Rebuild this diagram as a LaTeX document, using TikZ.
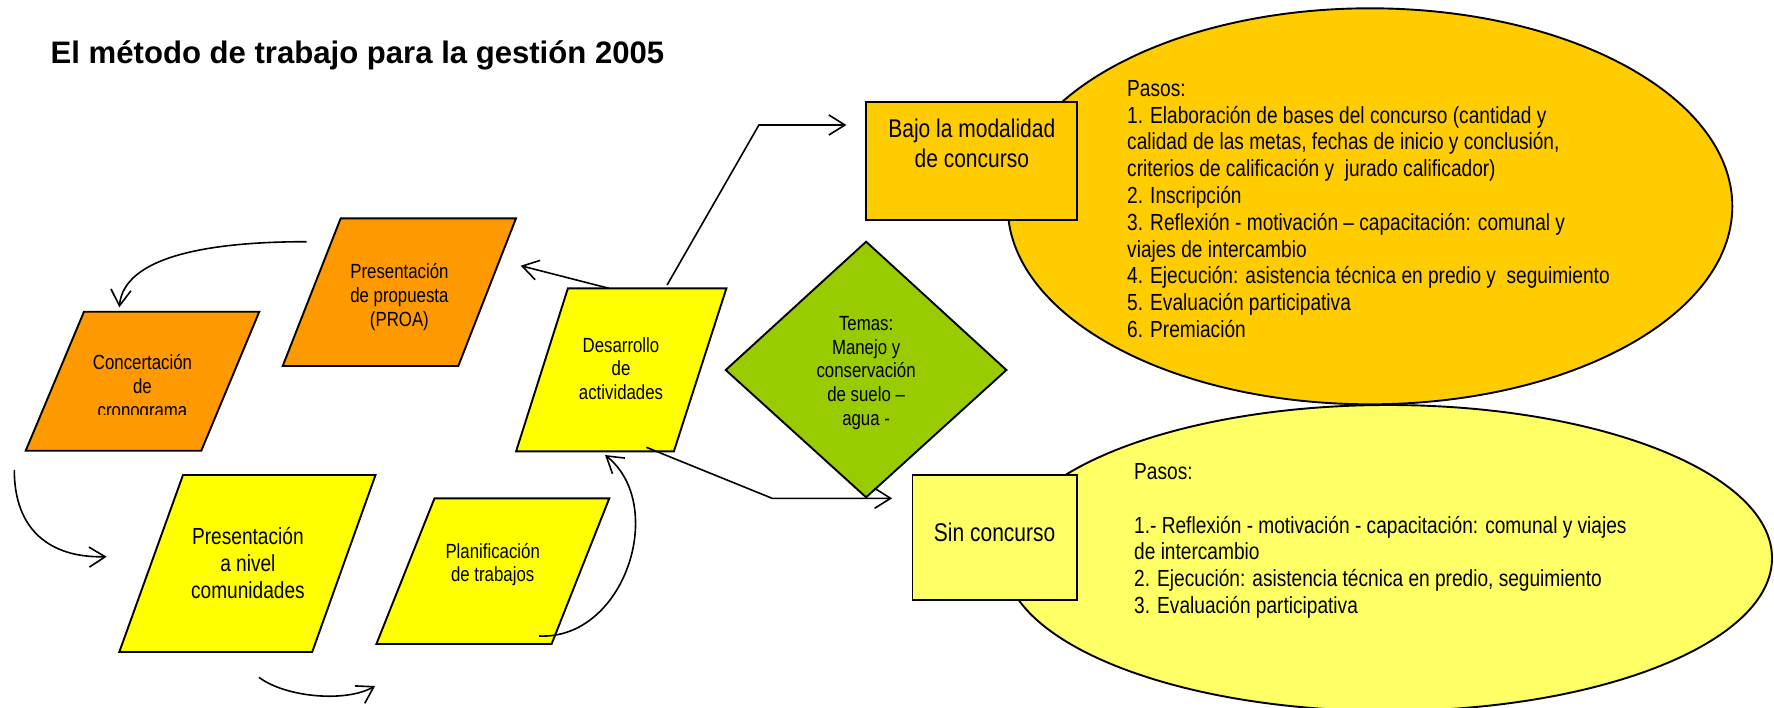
\documentclass[tikz,border=0pt]{standalone}
\usepackage{fontspec}
\setmainfont[FakeStretch=0.82]{Liberation Sans}
\newfontfamily\titlefont{Liberation Sans}
\usetikzlibrary{arrows.meta,shapes.geometric}
\definecolor{cOrange}{HTML}{FF9900}
\definecolor{cYellow}{HTML}{FFFF00}
\definecolor{cGold}{HTML}{FFCC00}
\definecolor{cPale}{HTML}{FFFF66}
\definecolor{cGreen}{HTML}{99CC00}
\tikzset{
  shapeline/.style={draw=black,line width=1.9pt,line join=miter},
  conn/.style={draw=black,line width=1.6pt,-{Straight Barb[length=16pt,width=20pt,line width=1.6pt]}},
  lbl/.style={inner sep=0pt,align=center,anchor=north},
  fs/.style={font=\fontsize{20.5}{23.7}\selectfont},
  fm/.style={font=\fontsize{23.3}{26.8}\selectfont},
  fl/.style={font=\fontsize{25.6}{29.5}\selectfont},
}
\begin{document}
\begin{tikzpicture}[x=1pt,y=-1pt]
\useasboundingbox (0,0) rectangle (1774,707);
% title
\node[anchor=base west,inner sep=0pt,font=\titlefont\bfseries\fontsize{31.1}{34}\selectfont] (title) at (50.5,63.3) {El método de trabajo para la gestión 2005};

% ellipses
\node[ellipse,shapeline,fill=cGold,minimum width=724.6pt,minimum height=396pt,inner sep=0pt] (ovA) at (1370,206.3) {};
\node[ellipse,shapeline,fill=cPale,minimum width=768pt,minimum height=306pt,inner sep=0pt] (ovB) at (1388,558) {};

% boxes
\node[shapeline,fill=cGold,minimum width=210.8pt,minimum height=118.3pt,inner sep=0pt] (bajo) at (971.4,160.85) {};
\node[shapeline,fill=cPale,minimum width=164.3pt,minimum height=125pt,inner sep=0pt] (sin) at (994.65,537.5) {};

% parallelograms
\coordinate (proaTL) at (340.7,218.3); \coordinate (proaTR) at (516,218.3);
\coordinate (proaBR) at (458.3,366);   \coordinate (proaBL) at (282.7,366);
\filldraw[shapeline,fill=cOrange] (proaTL) -- (proaTR) -- (proaBR) -- (proaBL) -- cycle;

\coordinate (concTL) at (84,311.7);    \coordinate (concTR) at (259.3,311.7);
\coordinate (concBR) at (201.3,450.7); \coordinate (concBL) at (25.7,450.7);
\filldraw[shapeline,fill=cOrange] (concTL) -- (concTR) -- (concBR) -- (concBL) -- cycle;

\coordinate (desaTL) at (567.9,288.3); \coordinate (desaTR) at (726.4,288.3);
\coordinate (desaBR) at (673.9,451.3); \coordinate (desaBL) at (516.1,451.3);
\filldraw[shapeline,fill=cYellow] (desaTL) -- (desaTR) -- (desaBR) -- (desaBL) -- cycle;

\coordinate (nivTL) at (183,475);      \coordinate (nivTR) at (375.5,475);
\coordinate (nivBR) at (312.2,652);    \coordinate (nivBL) at (119.3,652);
\filldraw[shapeline,fill=cYellow] (nivTL) -- (nivTR) -- (nivBR) -- (nivBL) -- cycle;

\coordinate (planTL) at (434.5,498.3); \coordinate (planTR) at (609.3,498.3);
\coordinate (planBR) at (551.6,644);   \coordinate (planBL) at (376.4,644);
\filldraw[shapeline,fill=cYellow] (planTL) -- (planTR) -- (planBR) -- (planBL) -- cycle;

% diamond
\coordinate (temT) at (866.1,241.7); \coordinate (temR) at (1006.4,370);
\coordinate (temB) at (866.1,497.3); \coordinate (temL) at (725.7,370);
\filldraw[shapeline,fill=cGreen] (temT) -- (temR) -- (temB) -- (temL) -- cycle;

% texts
\node[lbl,fs] (tproa) at (399.4,263.4) {Presentación\\de propuesta\\(PROA)};
\begin{scope}
\clip (0,300) rectangle (300,414.3);
\node[lbl,fs] (tconc) at (142.5,354.4) {Concertación\\de\\cronograma};
\end{scope}
\node[lbl,fs] (tdesa) at (621,337) {Desarrollo\\de\\actividades};
\node[lbl,font=\fontsize{23.3}{26.8}\selectfont] (tniv) at (247.9,527.4) {Presentación\\a nivel\\comunidades};
\node[lbl,fs] (tplan) at (492.7,542.7) {Planificación\\de trabajos};
\node[lbl,fs] (ttem) at (866.1,316) {Temas:\\Manejo y\\conservación\\de suelo –\\agua -};
\node[lbl,fl] (tbajo) at (971.8,118.8) {Bajo la modalidad\\de concurso};
\node[lbl,fl] (tsin) at (994.6,522.5) {Sin concurso};

\node[inner sep=0pt,anchor=north west,align=left,fm] (tpasA) at (1127,80)
{Pasos:\\
1. Elaboración de bases del concurso (cantidad y\\
calidad de las metas, fechas de inicio y conclusión,\\
criterios de calificación y\ \ jurado calificador)\\
2. Inscripción\\
3. Reflexión - motivación – capacitación: comunal y\\
viajes de intercambio\\
4. Ejecución: asistencia técnica en predio y\ \ seguimiento\\
5. Evaluación participativa\\
6. Premiación};

\node[inner sep=0pt,anchor=north west,align=left,fm] (tpasB) at (1134,463.3)
{Pasos:\\
~\\
1.- Reflexión - motivación - capacitación: comunal y viajes\\
de intercambio\\
2. Ejecución: asistencia técnica en predio, seguimiento\\
3. Evaluación participativa};

% connectors
\coordinate (aProaS) at (306.7,241.7);
\coordinate (aConcE) at (119.3,307.3);
\draw[conn] (aProaS) .. controls (206.7,241.7) and (124,257) .. (aConcE);

\coordinate (aConcS) at (14.3,470);
\coordinate (aNivE) at (106.7,556.7);
\draw[conn] (aConcS) .. controls (14.3,530) and (50,558) .. (aNivE);

\coordinate (aNivS) at (258.9,677.3);
\coordinate (aPlanE) at (375.1,686);
\draw[conn] (aNivS) .. controls (285,697) and (345,703) .. (aPlanE);

\coordinate (aPlanS) at (539,636);
\coordinate (aDesaE) at (605,455);
\draw[conn] (aPlanS) .. controls (625,640) and (668,505) .. (aDesaE);

\coordinate (aDesaS1) at (608.9,288.3);
\coordinate (aProaE) at (520.7,265.7);
\draw[conn] (aDesaS1) -- (aProaE);

\coordinate (aDesaS2) at (667.1,285);
\coordinate (aBend1) at (758.9,125);
\coordinate (aBajoE) at (846.4,125);
\draw[conn] (aDesaS2) -- (aBend1) -- (aBajoE);

\coordinate (aDesaS3) at (646.4,447.3);
\coordinate (aBend2) at (772.1,498.3);
\coordinate (aSinE) at (892.1,498.3);
\draw[conn] (aDesaS3) -- (aBend2) -- (aSinE);
\end{tikzpicture}
\end{document}
